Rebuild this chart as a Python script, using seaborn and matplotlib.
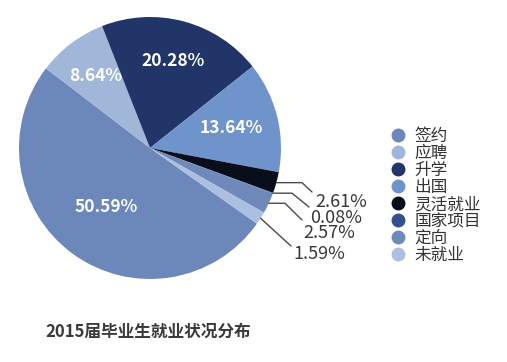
import matplotlib
matplotlib.use("Agg")
import matplotlib.pyplot as plt
import seaborn as sns
import numpy as np
from matplotlib.lines import Line2D

categories = ["签约", "应聘", "升学", "出国", "灵活就业", "国家项目", "定向", "未就业"]
values = [50.59, 8.64, 20.28, 13.64, 2.61, 0.08, 2.57, 1.59]
colors = ["#6c87ba", "#a1b7da", "#213569", "#6f94cb", "#090e1b", "#34508f", "#7089bb", "#abc0e1"]
title = "2015届毕业生就业状况分布"

sns.set_theme(style="white")
plt.rcParams['font.family'] = ['Noto Sans CJK SC', 'DejaVu Sans']
palette = sns.color_palette(colors)

W, H = 507, 362
fig = plt.figure(figsize=(W / 100, H / 100), dpi=100)
fig.patch.set_facecolor("white")
cx, cy, R = 150, 148, 131
ax = fig.add_axes([(cx - R) / W, (H - cy - R) / H, 2 * R / W, 2 * R / H])
wedges, _ = ax.pie(values, colors=palette, startangle=-35.3, counterclock=False,
                   radius=1, wedgeprops=dict(linewidth=0))
ax.set_xlim(-1, 1)
ax.set_ylim(-1, 1)
ax.axis("off")


def px2d(px, py):
    return (px - cx) / R, (cy - py) / R


# inside labels (first four wedges)
inside_dist = [0.56, 0.69, 0.69, 0.64]
for w, v, d in zip(wedges[:4], values[:4], inside_dist):
    a = np.deg2rad((w.theta1 + w.theta2) / 2)
    ax.text(d * np.cos(a), d * np.sin(a), f"{v:.2f}%", ha="center", va="center",
            color="white", fontsize=12.5, fontweight="bold")

# outside labels with leader lines (last four wedges)
elbow_x = [302, 292, 285, None]
line_end = [(312, 192), (309, 207), (302, 220), (291, 246)]
text_pos = [(315, 202), (310, 218), (303, 233), (293, 254)]
for w, v, ex, le, tp in zip(wedges[4:], values[4:], elbow_x, line_end, text_pos):
    a = np.deg2rad((w.theta1 + w.theta2) / 2)
    ax0, ay0 = np.cos(a), np.sin(a)
    xs, ys = [ax0], [ay0]
    if ex is not None:
        xs.append(px2d(ex, 0)[0])
        ys.append(ay0)
    ex2, ey2 = px2d(*le)
    xs.append(ex2)
    ys.append(ey2)
    ax.plot(xs, ys, color="#4a4a4a", lw=1.0, clip_on=False)
    tx, ty = px2d(*tp)
    ax.text(tx, ty, f"{v:.2f}%", ha="left", va="center", color="#383838", fontsize=13)

handles = [Line2D([], [], marker="o", linestyle="", markersize=9, color=c) for c in palette]
fig.legend(handles, categories, loc="upper left", bbox_to_anchor=(391 / W, 1 - 128 / H),
           frameon=False, fontsize=12, labelspacing=0, handlelength=0.8,
           handletextpad=0.62, borderaxespad=0, borderpad=0, labelcolor="#333333")

fig.text(45 / W, 1 - 332 / H, title, ha="left", va="center", fontsize=12,
         fontweight="bold", color="#3a3a3a")

fig.savefig("out.png", dpi=100, facecolor="white")
